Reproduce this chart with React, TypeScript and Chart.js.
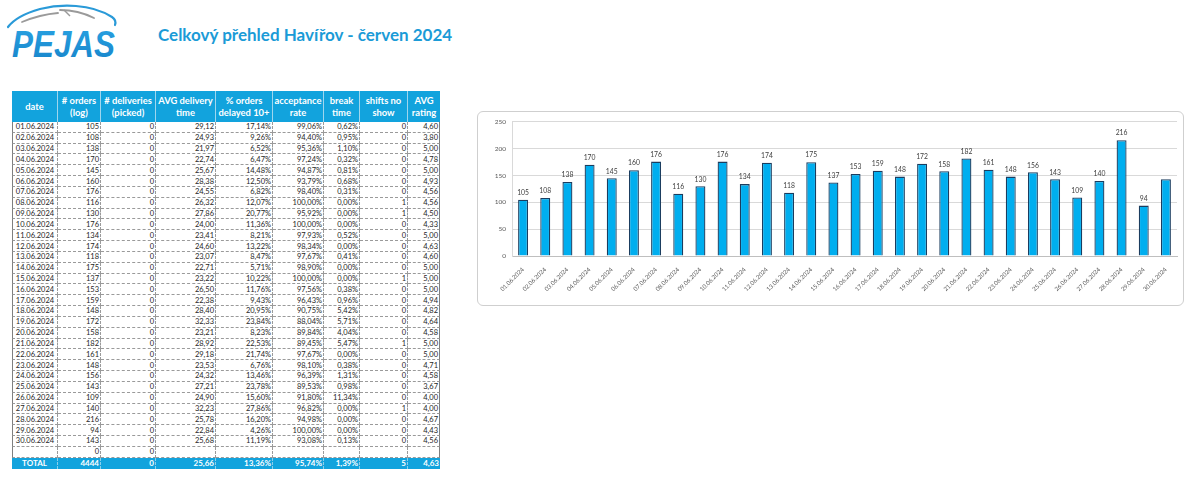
import React, { useEffect, useRef } from "react";
import { Chart, registerables } from "chart.js";

Chart.register(...registerables);

const dates = [
  "01.06.2024", "02.06.2024", "03.06.2024", "04.06.2024", "05.06.2024", "06.06.2024",
  "07.06.2024", "08.06.2024", "09.06.2024", "10.06.2024", "11.06.2024", "12.06.2024",
  "13.06.2024", "14.06.2024", "15.06.2024", "16.06.2024", "17.06.2024", "18.06.2024",
  "19.06.2024", "20.06.2024", "21.06.2024", "22.06.2024", "23.06.2024", "24.06.2024",
  "25.06.2024", "26.06.2024", "27.06.2024", "28.06.2024", "29.06.2024", "30.06.2024",
];
const orders = [105, 108, 138, 170, 145, 160, 176, 116, 130, 176, 134, 174, 118, 175, 137, 153, 159, 148, 172, 158, 182, 161, 148, 156, 143, 109, 140, 216, 94, 143];
const deliveries = [0, 0, 0, 0, 0, 0, 0, 0, 0, 0, 0, 0, 0, 0, 0, 0, 0, 0, 0, 0, 0, 0, 0, 0, 0, 0, 0, 0, 0, 0];
const avgDelivery = [29.12, 24.93, 21.97, 22.74, 25.67, 28.38, 24.55, 26.32, 27.86, 24.0, 23.41, 24.6, 23.07, 22.71, 23.22, 26.5, 22.38, 28.4, 32.33, 23.21, 28.92, 29.18, 23.53, 24.32, 27.21, 24.9, 32.23, 25.78, 22.84, 25.68];
const delayed = [17.14, 9.26, 6.52, 6.47, 14.48, 12.5, 6.82, 12.07, 20.77, 11.36, 8.21, 13.22, 8.47, 5.71, 10.22, 11.76, 9.43, 20.95, 23.84, 8.23, 22.53, 21.74, 6.76, 13.46, 23.78, 15.6, 27.86, 16.2, 4.26, 11.19];
const acceptance = [99.06, 94.4, 95.36, 97.24, 94.87, 93.79, 98.4, 100.0, 95.92, 100.0, 97.93, 98.34, 97.67, 98.9, 100.0, 97.56, 96.43, 90.75, 88.04, 89.84, 89.45, 97.67, 98.1, 96.39, 89.53, 91.8, 96.82, 94.98, 100.0, 93.08];
const breakTime = [0.62, 0.95, 1.1, 0.32, 0.81, 0.68, 0.31, 0, 0, 0, 0.52, 0, 0.41, 0, 0, 0.38, 0.96, 5.42, 5.71, 4.04, 5.47, 0, 0.38, 1.31, 0.98, 11.34, 0, 0, 0, 0.13];
const shiftsNoShow = [0, 0, 0, 0, 0, 0, 0, 1, 1, 0, 0, 0, 0, 0, 1, 0, 0, 0, 0, 0, 1, 0, 0, 0, 0, 0, 1, 0, 0, 0];
const avgRating = [4.6, 3.8, 5.0, 4.78, 5.0, 4.93, 4.56, 4.56, 4.5, 4.33, 5.0, 4.63, 4.6, 5.0, 5.0, 5.0, 4.94, 4.82, 4.64, 4.58, 5.0, 5.0, 4.71, 4.58, 3.67, 4.0, 4.0, 4.67, 4.43, 4.56];

const headers = [
  ["date"], ["# orders", "(log)"], ["# deliveries", "(picked)"], ["AVG delivery", "time"],
  ["% orders", "delayed 10+"], ["acceptance", "rate"], ["break", "time"], ["shifts no", "show"], ["AVG", "rating"],
];
const emptyRow = ["", "0", "0", "", "", "", "", "", ""];
const totals = ["TOTAL", "4444", "0", "25,66", "13,36%", "95,74%", "1,39%", "5", "4,63"];
const hiddenLabelIndexes = [29];

const colWidths = [46, 43, 55, 60, 57, 51, 36, 48, 32];
const BLUE = "#12a3dd";
const FONT = "Lato, 'Liberation Sans', sans-serif";

const dec = (v: number) => v.toFixed(2).replace(".", ",");
const pct = (v: number) => dec(v) + "%";

const rows: string[][] = dates.map((d, i) => [
  d,
  String(orders[i]),
  String(deliveries[i]),
  dec(avgDelivery[i]),
  pct(delayed[i]),
  pct(acceptance[i]),
  pct(breakTime[i]),
  String(shiftsNoShow[i]),
  dec(avgRating[i]),
]);

function Table() {
  const rowH = 10.84;
  const cells: React.ReactNode[] = [];
  headers.forEach((h, c) => {
    cells.push(
      <div
        key={"h" + c}
        style={{
          background: BLUE,
          color: "#fff",
          fontWeight: 700,
          fontSize: 9.4,
          lineHeight: "11.5px",
          display: "flex",
          flexDirection: "column",
          alignItems: "center",
          justifyContent: "center",
          textAlign: "center",
          borderRight: c < 8 ? "1px solid #9fd6ee" : "none",
          boxSizing: "border-box",
          whiteSpace: "nowrap",
        }}
      >
        {h.map((t, k) => (
          <span key={k}>{t}</span>
        ))}
      </div>
    );
  });
  [...rows, emptyRow].forEach((r, ri) => {
    r.forEach((v, c) => {
      cells.push(
        <div
          key={"r" + ri + "_" + c}
          style={{
            fontSize: 7.5,
            color: "#1e1e1e",
            display: "flex",
            alignItems: "center",
            justifyContent: c === 0 ? "center" : "flex-end",
            paddingRight: c === 0 ? 0 : 1,
            borderRight: c < 8 ? "1px dashed #9a9a9a" : "1px solid #7f7f7f",
            borderLeft: c === 0 ? "1px solid #7f7f7f" : "none",
            borderBottom: "1px dashed #9a9a9a",
            boxSizing: "border-box",
            overflow: "hidden",
            whiteSpace: "nowrap",
          }}
        >
          {v}
        </div>
      );
    });
  });
  totals.forEach((v, c) => {
    cells.push(
      <div
        key={"t" + c}
        style={{
          background: BLUE,
          color: "#fff",
          fontWeight: 700,
          fontSize: 8,
          display: "flex",
          alignItems: "center",
          justifyContent: c === 0 ? "center" : "flex-end",
          paddingRight: c === 0 ? 0 : 1,
          borderRight: c < 8 ? "1px dashed #8ccfeb" : "none",
          boxSizing: "border-box",
          whiteSpace: "nowrap",
        }}
      >
        {v}
      </div>
    );
  });
  return (
    <div
      style={{
        position: "absolute",
        left: 12,
        top: 91,
        display: "grid",
        gridTemplateColumns: colWidths.map((w) => w + "px").join(" "),
        gridTemplateRows: `31px repeat(31, ${rowH}px) 11px`,
        fontFamily: FONT,
      }}
    >
      {cells}
    </div>
  );
}

function Logo() {
  return (
    <svg width={130} height={64} style={{ position: "absolute", left: 0, top: 0 }}>
      <defs>
        <linearGradient id="lg" x1="0" y1="0" x2="0" y2="1">
          <stop offset="0" stopColor="#2aa3e3" />
          <stop offset="1" stopColor="#1683c9" />
        </linearGradient>
      </defs>
      <path d="M8 27 C 14 19, 26 13, 40 9 C 52 6, 64 5, 76 6 C 92 7, 104 12, 112 17 C 115 19, 116 22, 115 25" fill="none" stroke="#2a9ad8" strokeWidth={2.2} strokeLinecap="round" />
      <path d="M22 22 C 34 17, 46 14, 58 13" fill="none" stroke="#9a9a9a" strokeWidth={1.8} strokeLinecap="round" />
      <path d="M60 10 C 72 10, 84 13, 94 18" fill="none" stroke="#9a9a9a" strokeWidth={1.8} strokeLinecap="round" />
      <path d="M64 10 L 70 16" fill="none" stroke="#9a9a9a" strokeWidth={1.4} />
      <text x={12} y={57} textLength={103} lengthAdjust="spacingAndGlyphs" fontFamily="'Liberation Sans', Arial, sans-serif" fontWeight={700} fontStyle="italic" fontSize={37} fill="url(#lg)">
        PEJAS
      </text>
    </svg>
  );
}

function BarChart() {
  const ref = useRef<HTMLCanvasElement | null>(null);
  useEffect(() => {
    if (!ref.current) return;
    const labelPlugin = {
      id: "valueLabels",
      afterDatasetsDraw(chart: any) {
        const ctx = chart.ctx;
        const meta = chart.getDatasetMeta(0);
        ctx.save();
        ctx.font = `6.8px ${FONT}`;
        ctx.fillStyle = "#404040";
        ctx.textAlign = "center";
        ctx.textBaseline = "bottom";
        meta.data.forEach((bar: any, i: number) => {
          if (hiddenLabelIndexes.includes(i)) return;
          ctx.fillText(String(orders[i]), bar.x, bar.y - 3.5);
        });
        ctx.restore();
      },
    };
    const chart = new Chart(ref.current, {
      type: "bar",
      data: {
        labels: dates,
        datasets: [
          {
            data: orders,
            backgroundColor: "#00aeef",
            borderColor: "#1b3d5f",
            borderWidth: 1.3,
            barPercentage: 0.45,
            categoryPercentage: 1,
          },
        ],
      },
      options: {
        animation: false,
        responsive: false,
        maintainAspectRatio: false,
        layout: { padding: { top: 6, right: 6, left: 0, bottom: 0 } },
        plugins: { legend: { display: false }, tooltip: { enabled: false } },
        scales: {
          x: {
            grid: { display: false },
            border: { display: true, color: "#bfbfbf" },
            ticks: {
              minRotation: 45,
              maxRotation: 45,
              autoSkip: false,
              color: "#595959",
              font: { size: 6, family: FONT },
              padding: 2,
            },
            afterFit: (s: any) => {
              s.height = 49;
            },
          },
          y: {
            min: 0,
            max: 250,
            ticks: { stepSize: 50, color: "#595959", font: { size: 6.5, family: FONT }, padding: 6 },
            grid: { color: "#d9d9d9", drawTicks: false },
            border: { display: true, color: "#d9d9d9" },
            afterFit: (s: any) => {
              s.width = 34;
            },
          },
        },
      },
      plugins: [labelPlugin],
    } as any);
    return () => chart.destroy();
  }, []);
  return (
    <div
      style={{
        position: "absolute",
        left: 477,
        top: 111,
        width: 707,
        height: 195,
        border: "1px solid #cfcfcf",
        borderRadius: 6,
        boxSizing: "border-box",
        background: "#fff",
      }}
    >
      <canvas ref={ref} width={705} height={193} style={{ display: "block", width: 705, height: 193 }} />
    </div>
  );
}

export default function App() {
  return (
    <div style={{ position: "fixed", left: 0, top: 0, width: 1200, height: 485, background: "#fff", overflow: "hidden", fontFamily: FONT }}>
      <Logo />
      <div
        style={{
          position: "absolute",
          left: 158,
          top: 24,
          fontFamily: FONT,
          fontWeight: 700,
          fontSize: 17,
          color: "#1b9bd7",
          whiteSpace: "nowrap",
        }}
      >
        Celkový přehled Havířov - červen 2024
      </div>
      <Table />
      <BarChart />
    </div>
  );
}
